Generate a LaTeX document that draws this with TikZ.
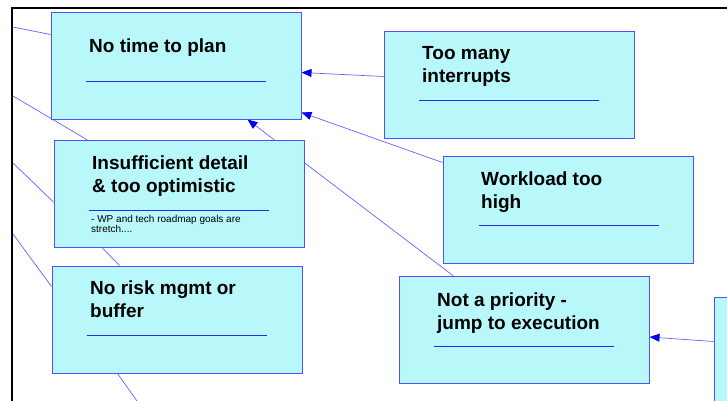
\documentclass[tikz,border=0pt]{standalone}
\usepackage{fontspec}
\setmainfont{Liberation Sans}
\usetikzlibrary{arrows.meta,calc}
\definecolor{boxfill}{RGB}{185,248,250}
\definecolor{boxline}{RGB}{80,80,255}
\definecolor{conn}{RGB}{100,100,255}
\definecolor{tipblue}{RGB}{0,0,235}
\definecolor{ulblue}{RGB}{40,40,240}
\pgfdeclarelayer{back}
\pgfsetlayers{back,main}
\begin{document}
\begin{tikzpicture}[x=1pt,y=-1pt,
  causebox/.style={draw=boxline, line width=1pt, fill=boxfill, minimum width=250pt, minimum height=107pt, inner sep=0pt},
  title/.style={anchor=north west, inner sep=0pt, align=left, font=\bfseries\fontsize{19}{23}\selectfont},
  note/.style={anchor=north west, inner sep=0pt, align=left, font=\fontsize{10}{10.5}\selectfont},
  uline/.style={draw=ulblue, line width=0.8pt},
  link/.style={draw=conn, line width=0.7pt},
  arr/.style={link, -{Triangle[length=10pt,width=8pt,color=tipblue]}},
  frameline/.style={line width=2.2pt, draw=black}]
\useasboundingbox (0,0) rectangle (727,400);
\clip (0,0) rectangle (727,400);

% boxes
\node[causebox] (nt) at (176,65.5) {};
\node[causebox] (tm) at (509,84.5) {};
\node[causebox] (ins) at (179,194) {};
\node[causebox] (wl) at (568,209.5) {};
\node[causebox] (nr) at (177,319.5) {};
\node[causebox] (na) at (524,330) {};
\node[causebox] (rb) at (839,350.5) {};

% texts
\node[title] (ntt) at (89,38.2) {No time to plan};
\node[title] (tmt) at (422,46.2) {Too many\\interrupts};
\node[title] (inst) at (92,155.2) {Insufficient detail\\\& too optimistic};
\node[note] (insn) at (91,214.8) {- WP and tech roadmap goals are\\stretch....};
\node[title] (wlt) at (481,171.2) {Workload too\\high};
\node[title] (nrt) at (90,280.2) {No risk mgmt or\\buffer};
\node[title] (nat) at (437,292.2) {Not a priority -\\jump to execution};

% underlines
\draw[uline] (86,81) -- (266,81);
\draw[uline] (419,100) -- (599,100);
\draw[uline] (89,210) -- (269,210);
\draw[uline] (479,225) -- (659,225);
\draw[uline] (87,335) -- (267,335);
\draw[uline] (434,346) -- (614,346);

% free ends
\coordinate (f1) at (13,27);
\coordinate (f2) at (13,96);
\coordinate (f3) at (13,163);
\coordinate (f4) at (13,234);
\coordinate (f5) at (137,401);

\begin{pgfonlayer}{back}
\draw[link] (f1) -- ($(nt.north west)+(0,23)$);
\draw[link] (f2) -- ($(ins.north west)+(34,0)$);
\draw[link] (f3) -- ($(ins.north west)+(0,62)$);
\draw[link] (f4) -- ($(nr.north west)+(0,21)$);
\draw[link] ($(ins.south west)+(49,0)$) -- ($(nr.north west)+(68,0)$);
\draw[link] ($(nr.south west)+(66,0)$) -- (f5);
\draw[arr] ($(na.north west)+(55,0)$) -- ($(nt.south west)+(197,0)$);
\draw[arr] ($(tm.north west)+(0,46)$) -- ($(nt.north east)+(0,61)$);
\draw[arr] ($(wl.north west)+(0,7)$) -- ($(nt.north east)+(0,101)$);
\draw[arr] ($(rb.north west)+(0,45)$) -- ($(na.north east)+(0,61)$);
\end{pgfonlayer}

% frame
\draw[frameline] (12,401) -- (12,8.3) -- (728,8.3);
\end{tikzpicture}
\end{document}
